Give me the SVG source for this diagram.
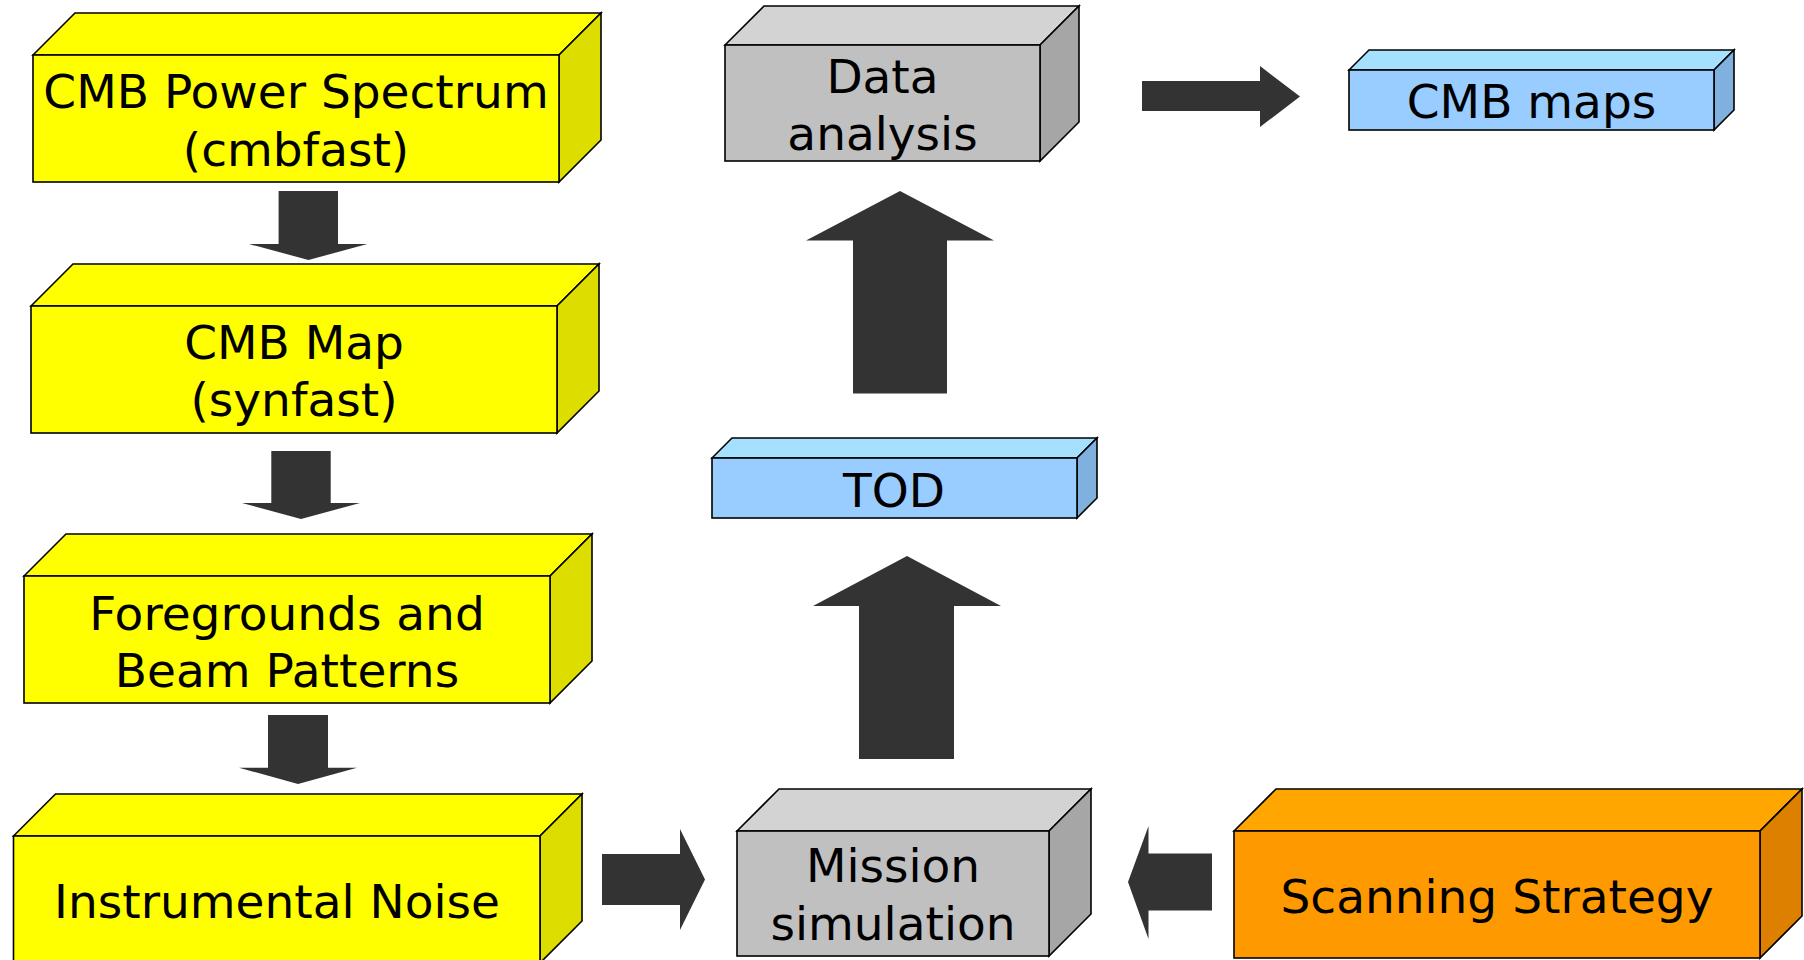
<svg xmlns="http://www.w3.org/2000/svg" width="1804" height="960" viewBox="0 0 1804 960">
<style>
.box path, .box rect{stroke:#000;stroke-width:1.6;stroke-linejoin:miter}
.y .f,.y .t{fill:#FFFF00}.y .s{fill:#DDDD00}
.g .f{fill:#C0C0C0}.g .t{fill:#D3D3D3}.g .s{fill:#A6A6A6}
.b .f{fill:#99CCFF}.b .t{fill:#A6E0FF}.b .s{fill:#80B0DD}
.o .f{fill:#FF9900}.o .t{fill:#FFA600}.o .s{fill:#DD8000}
text{font-family:"DejaVu Sans",sans-serif;font-size:47px;fill:#000;text-anchor:middle}
.arr path{fill:#333333}
</style>
<rect width="1804" height="960" fill="#fff"/>
<g id="connectors" class="arr">
<path d="M278.6,191 H338 V244 H367.4 L308.5,260 L249,244 H278.6 Z"/>
<path d="M271.3,451 H330.7 V503 H360 L301,519 L242,503 H271.3 Z"/>
<path d="M268,715 H328 V767.7 H357 L298,784 L239,767.7 H268 Z"/>
<path d="M602,854 H680 V829 L705,879.5 L680,930 V905 H602 Z"/>
<path d="M1212,853.5 H1148.5 V826 L1128,882 L1148.5,939 V910.5 H1212 Z"/>
<path d="M1142,81 H1260 V66 L1300,96.5 L1260,127 V111 H1142 Z"/>
<path d="M853,393.5 V240.5 H806 L900,191 L994,240.5 H947 V393.5 Z"/>
<path d="M859,759 V606 H813 L907,556 L1001,606 H954 V759 Z"/>
</g>
<g id="cmb-power-spectrum" class="box y">
<path class="t" d="M33,55 L75,13 H601 L559,55 Z"/>
<path class="s" d="M559,55 L601,13 V140 L559,182 Z"/>
<rect class="f" x="33" y="55" width="526" height="127"/>
<text x="296" y="108">CMB Power Spectrum</text>
<text x="296" y="165.5">(cmbfast)</text>
</g>
<g id="cmb-map" class="box y">
<path class="t" d="M31,306 L73,264 H599 L557,306 Z"/>
<path class="s" d="M557,306 L599,264 V391 L557,433 Z"/>
<rect class="f" x="31" y="306" width="526" height="127"/>
<text x="294" y="359">CMB Map</text>
<text x="294" y="416">(synfast)</text>
</g>
<g id="foregrounds" class="box y">
<path class="t" d="M24,576 L66,534 H592 L550,576 Z"/>
<path class="s" d="M550,576 L592,534 V661 L550,703 Z"/>
<rect class="f" x="24" y="576" width="526" height="127"/>
<text x="287" y="630">Foregrounds and</text>
<text x="287" y="687">Beam Patterns</text>
</g>
<g id="instrumental-noise" class="box y">
<path class="t" d="M13.5,836 L55.5,794 H582 L540,836 Z"/>
<path class="s" d="M540,836 L582,794 V921 L540,963 Z"/>
<rect class="f" x="13.5" y="836" width="526.5" height="127"/>
<text x="277" y="918">Instrumental Noise</text>
</g>
<g id="mission-simulation" class="box g">
<path class="t" d="M737,831 L779,789 H1091 L1049,831 Z"/>
<path class="s" d="M1049,831 L1091,789 V914 L1049,956 Z"/>
<rect class="f" x="737" y="831" width="312" height="125"/>
<text x="893" y="882">Mission</text>
<text x="893" y="940">simulation</text>
</g>
<g id="scanning-strategy" class="box o">
<path class="t" d="M1234,831 L1276,789 H1802 L1760,831 Z"/>
<path class="s" d="M1760,831 L1802,789 V916 L1760,958 Z"/>
<rect class="f" x="1234" y="831" width="526" height="127"/>
<text x="1497" y="913">Scanning Strategy</text>
</g>
<g id="tod" class="box b">
<path class="t" d="M712,458 L732,438 H1097 L1077,458 Z"/>
<path class="s" d="M1077,458 L1097,438 V498 L1077,518 Z"/>
<rect class="f" x="712" y="458" width="365" height="60"/>
<text x="894" y="507">TOD</text>
</g>
<g id="data-analysis" class="box g">
<path class="t" d="M725,45 L764,6 H1079 L1040,45 Z"/>
<path class="s" d="M1040,45 L1079,6 V122 L1040,161 Z"/>
<rect class="f" x="725" y="45" width="315" height="116"/>
<text x="882.5" y="93">Data</text>
<text x="882.5" y="150">analysis</text>
</g>
<g id="cmb-maps" class="box b">
<path class="t" d="M1349,70 L1369,50 H1734 L1714,70 Z"/>
<path class="s" d="M1714,70 L1734,50 V110 L1714,130 Z"/>
<rect class="f" x="1349" y="70" width="365" height="60"/>
<text x="1531.5" y="118">CMB maps</text>
</g>
</svg>
